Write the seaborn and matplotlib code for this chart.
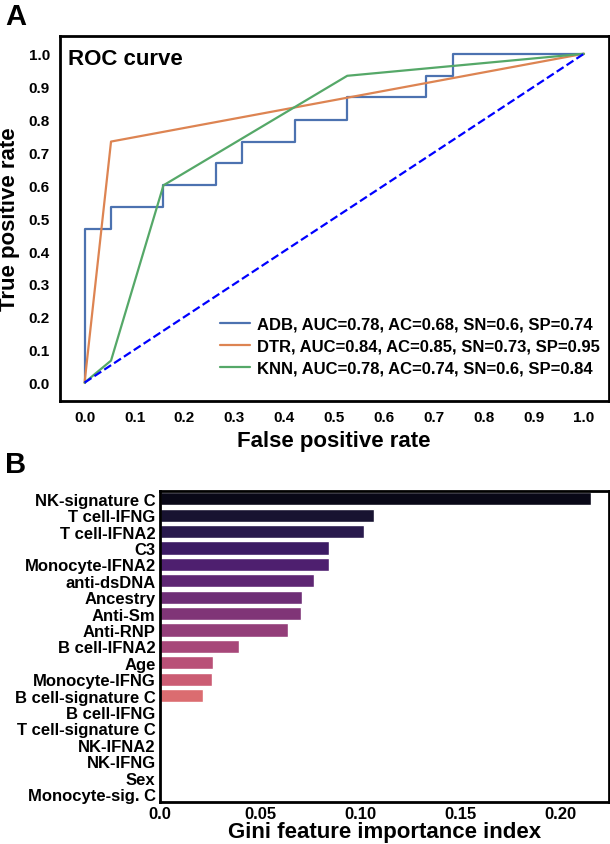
import numpy as np
import pandas as pd
import seaborn as sns
import matplotlib.pyplot as plt

# ROC curve points
adb_fpr = [0.0, 0.0, 0.053, 0.053, 0.158, 0.158, 0.263, 0.263, 0.316, 0.316,
           0.421, 0.421, 0.526, 0.526, 0.684, 0.684, 0.737, 0.737, 1.0]
adb_tpr = [0.0, 0.467, 0.467, 0.533, 0.533, 0.6, 0.6, 0.667, 0.667, 0.733,
           0.733, 0.8, 0.8, 0.867, 0.867, 0.933, 0.933, 1.0, 1.0]
dtr_fpr = [0.0, 0.053, 1.0]
dtr_tpr = [0.0, 0.733, 1.0]
knn_fpr = [0.0, 0.053, 0.158, 0.526, 1.0]
knn_tpr = [0.0, 0.067, 0.6, 0.933, 1.0]
chance = [0.0, 1.0]

model_labels = ["ADB, AUC=0.78, AC=0.68, SN=0.6, SP=0.74",
                "DTR, AUC=0.84, AC=0.85, SN=0.73, SP=0.95",
                "KNN, AUC=0.78, AC=0.74, SN=0.6, SP=0.84"]

# Gini feature importance
features = ["NK-signature C", "T cell-IFNG", "T cell-IFNA2", "C3", "Monocyte-IFNA2",
            "anti-dsDNA", "Ancestry", "Anti-Sm", "Anti-RNP", "B cell-IFNA2", "Age",
            "Monocyte-IFNG", "B cell-signature C", "B cell-IFNG", "T cell-signature C",
            "NK-IFNA2", "NK-IFNG", "Sex", "Monocyte-sig. C"]
importance = [0.215, 0.107, 0.102, 0.0846, 0.0846, 0.077, 0.0712, 0.0704, 0.0638,
              0.0393, 0.0267, 0.0261, 0.0216, 0.0, 0.0, 0.0, 0.0, 0.0, 0.0]

sns.set_style("white")
plt.rcParams['font.family'] = ['Liberation Sans', 'DejaVu Sans']
plt.rcParams['font.weight'] = 'bold'
plt.rcParams['axes.labelweight'] = 'bold'
for k in ['text.color', 'axes.labelcolor', 'xtick.color', 'ytick.color']:
    plt.rcParams[k] = 'black'

fig = plt.figure(figsize=(6.1, 8.45), dpi=100)
ax1 = fig.add_axes([0.0977, 0.5246, 0.9005, 0.432])
ax2 = fig.add_axes([0.2618, 0.0494, 0.7364, 0.3688])

# Panel A: ROC curves
pal = sns.color_palette("deep")
for fpr, tpr, lab, col in zip([adb_fpr, dtr_fpr, knn_fpr], [adb_tpr, dtr_tpr, knn_tpr],
                              model_labels, pal[:3]):
    sns.lineplot(x=fpr, y=tpr, sort=False, estimator=None, color=col, lw=1.6,
                 label=lab, ax=ax1)
ax1.plot(chance, chance, color='b', ls='--', lw=1.6)
ax1.set_xlim(-0.05, 1.05)
ax1.set_ylim(-0.055, 1.055)
ax1.set_xticks(np.arange(0, 1.01, 0.1))
ax1.set_yticks(np.arange(0, 1.01, 0.1))
ax1.tick_params(length=0, labelsize=11, pad=7)
ax1.set_xlabel("False positive rate", fontsize=16, labelpad=4)
ax1.set_ylabel("True positive rate", fontsize=16, labelpad=6)
ax1.text(0.015, 0.965, "ROC curve", transform=ax1.transAxes, fontsize=16,
         fontweight='bold', va='top', ha='left')
ax1.legend(loc='lower right', bbox_to_anchor=(0.995, 0.05), borderaxespad=0,
           frameon=False, fontsize=12, labelspacing=0.42, handlelength=1.8,
           handletextpad=0.4)
for s in ax1.spines.values():
    s.set_linewidth(2)
    s.set_color('black')

# Panel B: feature importance
df = pd.DataFrame({"feature": features, "importance": importance})
sns.barplot(data=df, x="importance", y="feature", hue="feature", palette="magma",
            legend=False, ax=ax2)
ax2.set_xlim(0, 0.224)
ax2.set_xticks([0.0, 0.05, 0.10, 0.15, 0.20])
ax2.set_xticklabels(["0.0", "0.05", "0.10", "0.15", "0.20"])
ax2.tick_params(length=0, labelsize=12, pad=3)
ax2.set_xlabel("Gini feature importance index", fontsize=16, labelpad=0)
ax2.set_ylabel("")
for s in ax2.spines.values():
    s.set_linewidth(2)
    s.set_color('black')

fig.text(0.008, 0.97, "A", fontsize=21, fontweight='bold')
fig.text(0.008, 0.44, "B", fontsize=21, fontweight='bold')

fig.savefig("out.png", dpi=100)
